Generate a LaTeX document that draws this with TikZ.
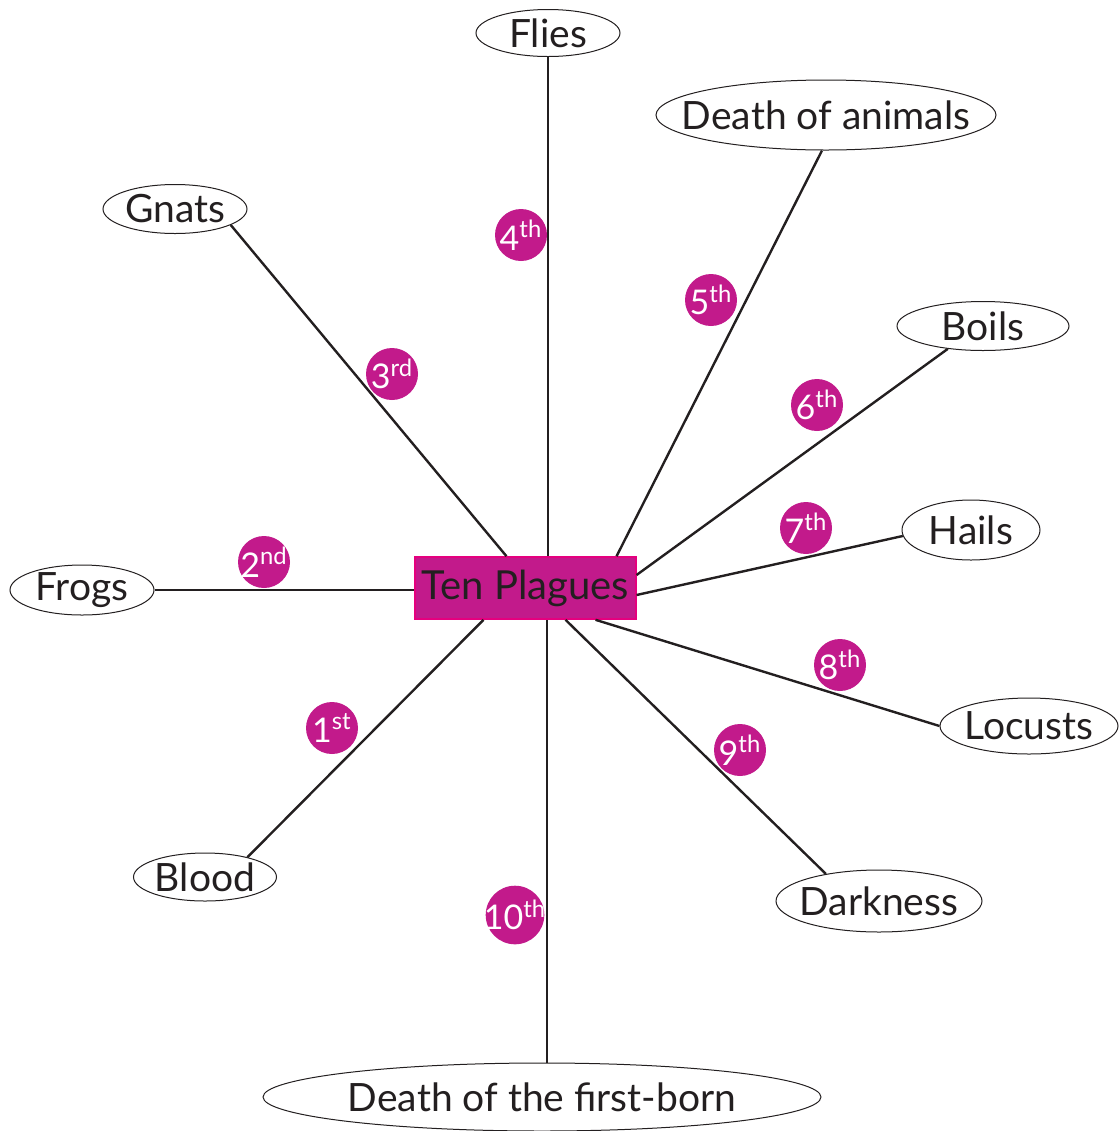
\documentclass[tikz,border=0pt]{standalone}
\usepackage{fontspec}
\setmainfont{Lato}
\definecolor{plague}{HTML}{C21A8B}
\definecolor{plagueedge}{HTML}{E5007E}
\definecolor{inkclr}{HTML}{231F20}
\usetikzlibrary{shapes.geometric}

\begin{document}
\begin{tikzpicture}[
    x=0.5pt, y=-0.5pt,
    oval/.style={ellipse, draw=inkclr, line width=0.5pt, fill=white,
                 inner xsep=-12pt, inner ysep=0pt,
                 text=inkclr, font=\fontsize{19.5}{22}\selectfont},
    badge/.style={circle, fill=plague, minimum size=26pt, inner sep=-2pt,
                  text=white, font=\fontsize{17}{19}\selectfont},
    spoke/.style={draw=inkclr, line width=1.2pt}
  ]
    \useasboundingbox (0,0) rectangle (1119,1131);

    % centre
    \node[rectangle, fill=plague, draw=plagueedge, line width=0.8pt,
          minimum width=110pt, minimum height=31pt, text=inkclr,
          font=\fontsize{20}{24}\selectfont] (tp) at (525.5,588) {Ten Plagues};

    % the plagues
    \node[oval, minimum width=72pt,  minimum height=23.5pt] (flies)  at (548,33)   {Flies};
    \node[oval, minimum width=170pt, minimum height=35pt]   (anim)   at (826,115)  {Death of animals};
    \node[oval, minimum width=72pt,  minimum height=24.5pt] (gnats)  at (175,209)  {Gnats};
    \node[oval, minimum width=86pt,  minimum height=24.5pt] (boils)  at (983,326)  {Boils};
    \node[oval, minimum width=69pt,  minimum height=30pt]   (hails)  at (971,530)  {Hails};
    \node[oval, minimum width=72pt,  minimum height=25pt]   (frogs)  at (82,590)   {Frogs};
    \node[oval, minimum width=89pt,  minimum height=28pt]   (locusts) at (1029,726) {Locusts};
    \node[oval, minimum width=71.5pt, minimum height=24pt]  (blood)  at (205,877)  {Blood};
    \node[oval, minimum width=103pt, minimum height=31pt]   (dark)   at (879,901)  {Darkness};
    \node[oval, minimum width=279pt, minimum height=34pt]   (first)  at (542,1097) {Death of the first-born};

    \draw[spoke] (tp.north -| flies.south) -- (flies.south);
    \draw[spoke] ([xshift=-10pt]tp.north east) -- ([xshift=-2pt]anim.south);
    \draw[spoke] ([xshift=46pt]tp.north west) -- (gnats.-16);
    \draw[spoke] ([yshift=6.5pt]tp.east) -- (boils.213);
    \draw[spoke] ([yshift=-3.5pt]tp.east) -- (hails.185);
    \draw[spoke] (frogs.east) -- (frogs.east -| tp.west);
    \draw[spoke] ([xshift=35pt]tp.south) -- (locusts.west);
    \draw[spoke] ([xshift=20pt]tp.south) -- (dark.153);
    \draw[spoke] ([xshift=-21pt]tp.south) -- (blood.25);
    \draw[spoke] ([xshift=2.5pt]first.north) -- ([xshift=2.5pt]first.north |- tp.south);

    % order
    \node[badge] (b1)  at (332,728) {1\textsuperscript{st}};
    \node[badge] (b2)  at (264,562) {2\textsuperscript{nd}};
    \node[badge] (b3)  at (392,374) {3\textsuperscript{rd}};
    \node[badge] (b4)  at (521,235) {4\textsuperscript{th}};
    \node[badge] (b5)  at (711,300) {5\textsuperscript{th}};
    \node[badge] (b6)  at (817,405) {6\textsuperscript{th}};
    \node[badge] (b7)  at (806,528) {7\textsuperscript{th}};
    \node[badge] (b8)  at (840,665) {8\textsuperscript{th}};
    \node[badge] (b9)  at (740,750) {9\textsuperscript{th}};
    \node[badge] (b10) at (515,915) {10\textsuperscript{th}};
  \end{tikzpicture}
\end{document}
